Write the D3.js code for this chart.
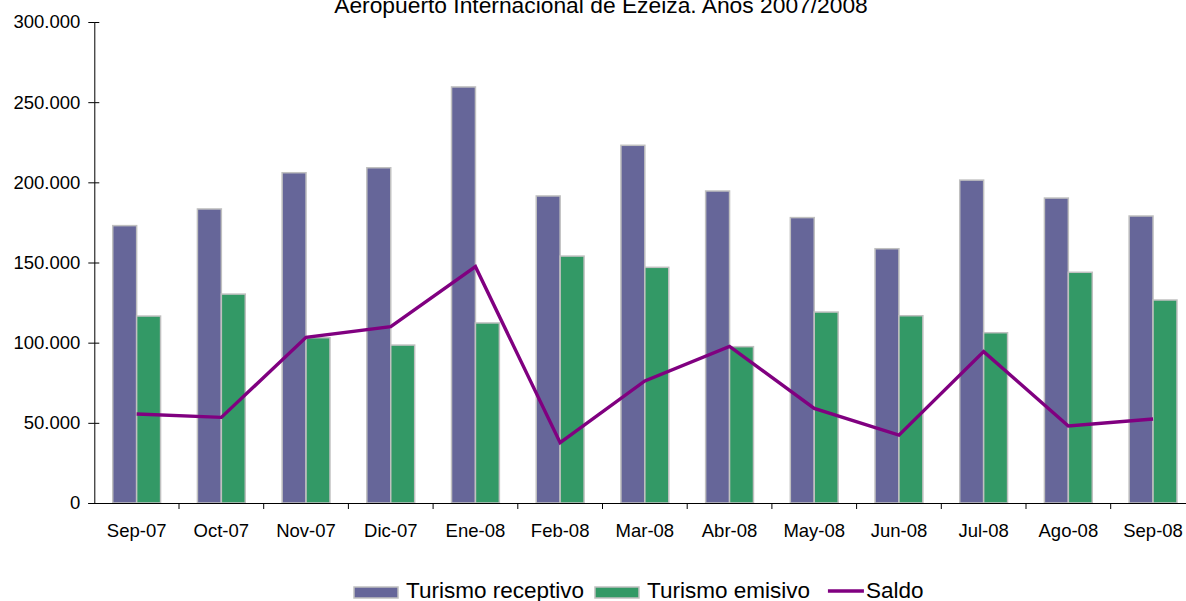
<!DOCTYPE html>
<html>
<head>
<meta http-equiv="Content-Type" content="text/html; charset=utf-8" />
<title>Turismo receptivo y emisivo</title>
<script type="text/javascript" src="https://cdn.jsdelivr.net/npm/d3@7/dist/d3.min.js"></script>
<style>
body{margin:0;padding:0;background:#fff;}
svg text{font-family:"Liberation Sans",Arial,sans-serif;}
</style>
</head>
<body>
<svg id="idSvgBackground" width="1186" height="601"></svg>
<script type="text/javascript">
// datos (pasajeros por mes)
var meses = ["Sep-07","Oct-07","Nov-07","Dic-07","Ene-08","Feb-08","Mar-08","Abr-08","May-08","Jun-08","Jul-08","Ago-08","Sep-08"];
var receptivo = [173000,183400,206000,209100,259500,191500,223100,194600,178000,158600,201400,190200,179000];
var emisivo   = [116600,130300,103100,98500,112300,154000,147000,97500,119100,116800,106200,143900,126600];
var saldo     = [55500,53400,103300,110000,147400,37600,76100,97700,59000,42300,94400,48000,52400];
var yTicks    = [0,50000,100000,150000,200000,250000,300000];
var series    = ["Turismo receptivo","Turismo emisivo","Saldo"];

var colores = {rec:"#666699",emi:"#339966",saldo:"#800080",borde:"#c0c0c0"};

function draw(){
	var svg = d3.select("#idSvgBackground");
	var left = 94.3, right = 1195.4, top = 22, bottom = 503;

	var x = d3.scaleBand().domain(meses).range([left,right]).padding(0);
	var x1 = d3.scaleBand().domain(["rec","emi"]).range([0,x.bandwidth()]).paddingInner(0).paddingOuter(0.77);
	var y = d3.scaleLinear().domain([0,300000]).range([bottom,top]);

	var loc = d3.formatLocale({decimal:",",thousands:".",grouping:[3],currency:["",""]});
	var fmt = loc.format(",d");

	// titulo (cortado arriba como en el original)
	svg.append("text").attr("x",601).attr("y",13).attr("text-anchor","middle")
		.style("font-size","22.8px").style("fill","#000")
		.text("Aeropuerto Internacional de Ezeiza. Años 2007/2008");

	// barras
	var g_bars = svg.append("g").attr("name","bars");
	meses.forEach(function(m,i){
		g_bars.append("rect")
			.attr("x",x(m)+x1("rec")).attr("y",y(receptivo[i]))
			.attr("width",x1.bandwidth()).attr("height",y(0)-y(receptivo[i]))
			.style("fill",colores.rec).style("stroke",colores.borde).style("stroke-width","1.5px");
		g_bars.append("rect")
			.attr("x",x(m)+x1("emi")).attr("y",y(emisivo[i]))
			.attr("width",x1.bandwidth()).attr("height",y(0)-y(emisivo[i]))
			.style("fill",colores.emi).style("stroke",colores.borde).style("stroke-width","1.5px");
	});

	// linea saldo
	var line = d3.line()
		.x(function(d,i){return x(meses[i])+x.bandwidth()/2;})
		.y(function(d){return y(d);});
	svg.append("path").datum(saldo).attr("d",line)
		.style("fill","none").style("stroke",colores.saldo).style("stroke-width","3.4px")
		.style("stroke-linejoin","miter");

	// eje y
	var gy = svg.append("g").attr("transform","translate("+left+",0)")
		.call(d3.axisLeft(y).tickValues(yTicks).tickFormat(fmt).tickSizeInner(6).tickSizeOuter(0).tickPadding(8));
	gy.select(".domain").attr("d","M0.5,"+top+"V"+bottom).style("stroke","#000");
	gy.selectAll(".tick line").style("stroke","#000");
	gy.selectAll(".tick").append("line").attr("x1",0).attr("x2",5).style("stroke","#000");
	gy.selectAll(".tick text").style("font-size","18.5px").style("fill","#000");

	// eje x
	var gx = svg.append("g").attr("transform","translate(0,"+bottom+")");
	gx.append("line").attr("x1",left-6).attr("x2",1186).attr("y1",0.5).attr("y2",0.5).style("stroke","#000");
	meses.forEach(function(m,i){
		if(i>0){
			gx.append("line").attr("x1",x(m)).attr("x2",x(m)).attr("y1",0).attr("y2",6).style("stroke","#000");
		}
		gx.append("text").attr("x",x(m)+x.bandwidth()/2).attr("y",34).attr("text-anchor","middle")
			.style("font-size","18.5px").style("fill","#000").text(m);
	});

	// leyenda
	var lg = svg.append("g").attr("name","legend");
	var ly = 598, lx = 354;
	var items = [{t:series[0],c:colores.rec,k:"rect"},{t:series[1],c:colores.emi,k:"rect"},{t:series[2],c:colores.saldo,k:"line"}];
	items.forEach(function(it,i){
		var tx;
		if(it.k=="rect"){
			lg.append("rect").attr("x",lx).attr("y",ly-11).attr("width",44).attr("height",11)
				.style("fill",it.c).style("stroke",colores.borde).style("stroke-width","1.5px");
			tx = lx+52;
		}else{
			lx += 7;
			lg.append("line").attr("x1",lx).attr("x2",lx+36).attr("y1",ly-7).attr("y2",ly-7)
				.style("stroke",it.c).style("stroke-width","3.4px");
			tx = lx+38;
		}
		var t = lg.append("text").attr("x",tx).attr("y",ly).style("font-size","22.5px").style("fill","#000").text(it.t);
		lx = tx+t.node().getComputedTextLength()+11;
	});
}
draw();
</script>
</body>
</html>
